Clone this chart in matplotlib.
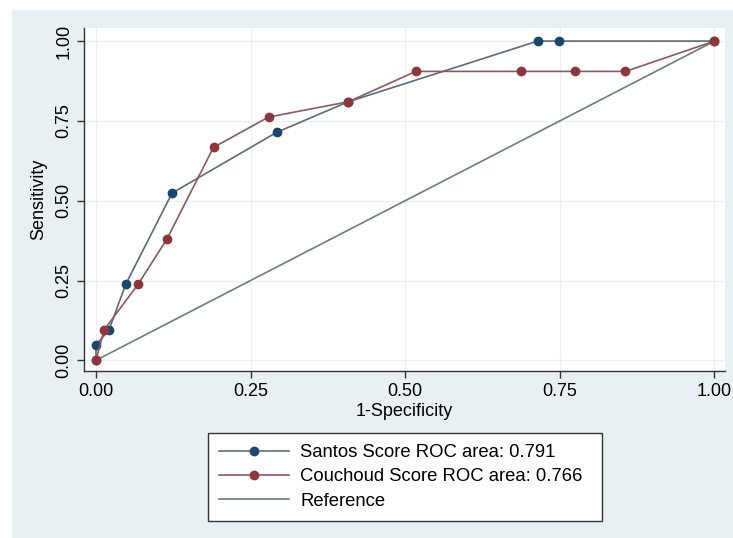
import matplotlib
matplotlib.use('Agg')
import matplotlib.pyplot as plt
from matplotlib.patches import Rectangle

# ROC points
santos_fpr = [0.0, 0.0, 0.021, 0.048, 0.123, 0.292, 0.408, 0.714, 0.748, 1.0]
santos_tpr = [0.0, 0.048, 0.095, 0.238, 0.524, 0.714, 0.810, 1.0, 1.0, 1.0]
couchoud_fpr = [0.0, 0.013, 0.068, 0.115, 0.190, 0.279, 0.408, 0.517, 0.687, 0.775, 0.856, 1.0]
couchoud_tpr = [0.0, 0.095, 0.238, 0.381, 0.667, 0.762, 0.810, 0.905, 0.905, 0.905, 0.905, 1.0]
ref_xy = [0.0, 1.0]
ticks = [0.0, 0.25, 0.5, 0.75, 1.0]
tick_labels = ['0.00', '0.25', '0.50', '0.75', '1.00']
labels = ['Santos Score ROC area: 0.791', 'Couchoud Score ROC area: 0.766', 'Reference']

plt.rcParams['font.family'] = ['Liberation Sans', 'DejaVu Sans']

W, H = 733, 538
fig = plt.figure(figsize=(W/100, H/100), dpi=100, facecolor='white')
# light graph region, with the thin white strip at top and left
fig.add_artist(Rectangle((12/W, 0), 1, 1 - 10/H, transform=fig.transFigure,
                         facecolor='#e9f0f3', edgecolor='none', zorder=-5))

ax = fig.add_axes([84/W, 1 - 371/H, (725 - 84)/W, (371 - 28)/H])
ax.set_zorder(2)
ax.set_facecolor('white')

ax.plot(ref_xy, ref_xy, color='#6a7f78', lw=1.2, zorder=2, label=labels[2])
ax.plot(santos_fpr, santos_tpr, color='#5b6b7c', lw=1.2, marker='o', ms=6,
        mfc='#1a476f', mec='#1a476f', zorder=3, label=labels[0])
ax.plot(couchoud_fpr, couchoud_tpr, color='#8a5a5e', lw=1.2, marker='o', ms=6,
        mfc='#90353b', mec='#90353b', zorder=4, label=labels[1])

ax.set_xlim(-0.0194, 1.017)
ax.set_ylim(-0.0335, 1.041)
ax.set_xticks(ticks)
ax.set_xticklabels(tick_labels)
ax.set_yticks(ticks)
ax.set_yticklabels(tick_labels, rotation=90, va='center')
ax.tick_params(axis='both', labelsize=13, length=5, width=1, color='#333333', direction='out')
ax.grid(True, color='#eef1f3', lw=1)
ax.set_axisbelow(True)
for s in ['top', 'right']:
    ax.spines[s].set_visible(False)
for s in ['left', 'bottom']:
    ax.spines[s].set_color('#333333')
    ax.spines[s].set_linewidth(1)

ax.set_xlabel('1-Specificity', fontsize=13, labelpad=2)
ax.set_ylabel('Sensitivity', fontsize=13, labelpad=6)

handles, lbls = ax.get_legend_handles_labels()
order = [1, 2, 0]
leg = fig.legend([handles[i] for i in order], [lbls[i] for i in order],
                 loc='upper left', bbox_to_anchor=(208/W, 1 - 518/H, 394/W, 85/H),
                 mode='expand', fontsize=13.3, frameon=True, fancybox=False, framealpha=1,
                 edgecolor='#333333', handlelength=3.8, handletextpad=0.6,
                 labelspacing=0.4, borderpad=0.6, borderaxespad=0)
leg.get_frame().set_linewidth(1)
leg.set_zorder(5)

fig.savefig('out.png', dpi=100, facecolor='white')
